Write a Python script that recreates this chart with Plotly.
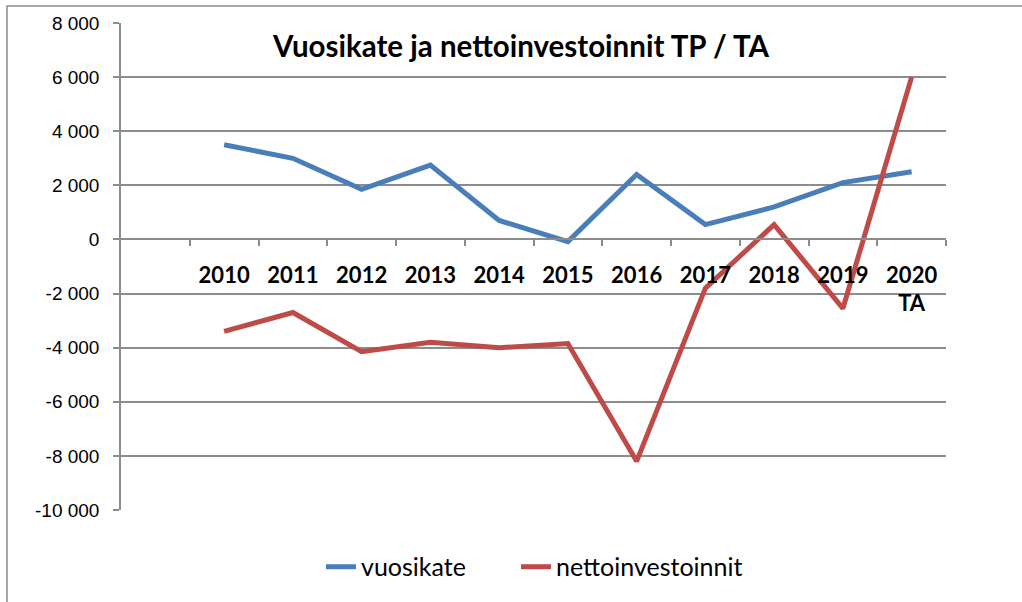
import plotly.graph_objects as go

# Categories and series (euro thousands)
years = ["2010", "2011", "2012", "2013", "2014", "2015", "2016", "2017", "2018", "2019", "2020"]
tick_labels = ["2010", "2011", "2012", "2013", "2014", "2015", "2016", "2017", "2018", "2019", "2020<br>TA"]
vuosikate = [3500, 3000, 1850, 2750, 700, -80, 2400, 550, 1200, 2100, 2500]
nettoinvestoinnit = [-3400, -2700, -4150, -3800, -4000, -3850, -8200, -1800, 550, -2550, 6000]

y_ticks = [-10000, -8000, -6000, -4000, -2000, 0, 2000, 4000, 6000, 8000]
y_tick_text = ["-10 000", "-8 000", "-6 000", "-4 000", "-2 000", "0", "2 000", "4 000", "6 000", "8 000"]

Y_MIN, Y_MAX = -10000, 8000
GRID = "#8c8c8c"
BLUE = "#4a7ebb"
RED = "#be4b48"

fig = go.Figure()
fig.add_trace(go.Scatter(x=tick_labels, y=vuosikate, name="vuosikate", mode="lines",
                         legend="legend", line=dict(color=BLUE, width=5)))
fig.add_trace(go.Scatter(x=tick_labels, y=nettoinvestoinnit, name="nettoinvestoinnit", mode="lines",
                         legend="legend2", line=dict(color=RED, width=5)))

legend_style = dict(orientation="h", xanchor="left", y=-0.117, yanchor="middle",
                    font=dict(family="Lato", size=25, color="black"),
                    bgcolor="rgba(0,0,0,0)")

fig.update_layout(
    width=1022, height=602,
    margin=dict(l=121, r=76, t=23, b=92),
    paper_bgcolor="white", plot_bgcolor="white",
    title=dict(text="<b>Vuosikate ja nettoinvestoinnit TP / TA</b>",
               x=(521 - 121) / 825, xref="paper", xanchor="center",
               y=1 - 47 / 602, yref="container", yanchor="middle",
               font=dict(family="Lato", size=29.5, color="black")),
    showlegend=True,
    legend=dict(x=(321 - 121) / 825, **legend_style),
    legend2=dict(x=(516 - 121) / 825, **legend_style),
    xaxis=dict(
        type="category", range=[-1.5, 10.5],
        anchor="free", position=(0 - Y_MIN) / (Y_MAX - Y_MIN),
        showline=True, linecolor=GRID, linewidth=1.5,
        showgrid=False, zeroline=False,
        tickson="boundaries", ticks="outside", ticklen=6, tickcolor=GRID, tickwidth=1.5,
        tickangle=0, ticklabelstandoff=16,
        tickfont=dict(family="Lato", size=22, color="black", weight="bold"),
    ),
    yaxis=dict(
        range=[Y_MIN, Y_MAX], tickvals=y_ticks, ticktext=y_tick_text,
        showline=True, linecolor=GRID, linewidth=1.5,
        showgrid=True, gridcolor=GRID, gridwidth=1.5, zeroline=False,
        ticks="outside", ticklen=6, tickcolor=GRID, tickwidth=1.5,
        ticklabelstandoff=10,
        tickfont=dict(family="Liberation Sans", size=19, color="black"),
    ),
)

# Outer chart frame
fig.add_shape(type="rect", xref="paper", yref="paper",
              x0=(7 - 121) / 825, x1=(1040 - 121) / 825,
              y0=(510 - 620) / 487, y1=(510 - 6) / 487,
              line=dict(color=GRID, width=1.5), fillcolor="rgba(0,0,0,0)", layer="below")

fig.write_html("out.html")
